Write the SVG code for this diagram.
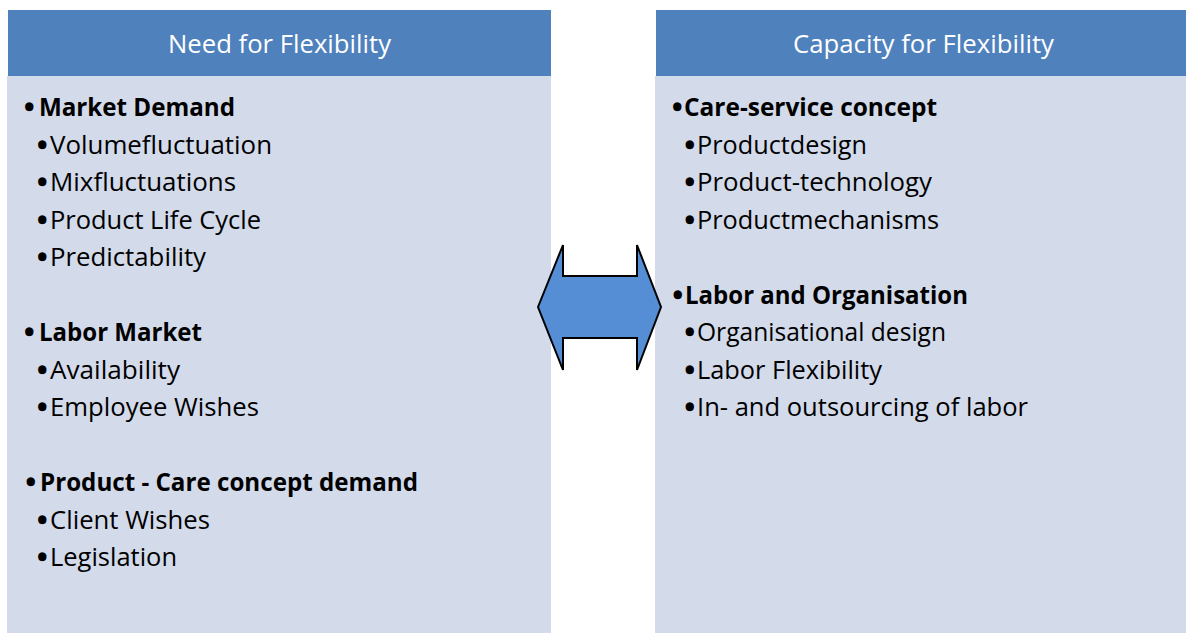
<svg xmlns="http://www.w3.org/2000/svg" width="1186" height="633" viewBox="0 0 1186 633">
<style>
.hdr{fill:#4F81BD}
.body{fill:#D3DAEA}
.ht{font-family:"Open Sans","Liberation Sans",sans-serif;font-size:25px;fill:#FFFFFF}
.t{font-family:"Open Sans","Liberation Sans",sans-serif;font-size:25px;fill:#000000}
.bu{font-size:28px;font-weight:normal;stroke:#000000;stroke-width:2.5;stroke-linejoin:round}
.b{font-weight:bold}
.arrow{fill:#558ED5;stroke:#000000;stroke-width:2;stroke-linejoin:miter}
</style>
<rect width="1186" height="633" fill="#FFFFFF"/>
<g id="need">
<rect class="body" x="7" y="76" width="544" height="557"/>
<rect class="hdr" x="8" y="10" width="543" height="66"/>
<text class="ht" x="168" y="53" textLength="223" lengthAdjust="spacingAndGlyphs">Need for Flexibility</text>
<text class="t"><tspan class="bu" x="24" y="117">•</tspan><tspan class="b" x="39" y="116" textLength="196" lengthAdjust="spacingAndGlyphs">Market Demand</tspan></text>
<text class="t"><tspan class="bu" x="37" y="154.5">•</tspan><tspan x="50" y="153.5" textLength="222" lengthAdjust="spacingAndGlyphs">Volumefluctuation</tspan></text>
<text class="t"><tspan class="bu" x="37" y="192">•</tspan><tspan x="50" y="191" textLength="186" lengthAdjust="spacingAndGlyphs">Mixfluctuations</tspan></text>
<text class="t"><tspan class="bu" x="37" y="229.5">•</tspan><tspan x="50" y="228.5" textLength="211" lengthAdjust="spacingAndGlyphs">Product Life Cycle</tspan></text>
<text class="t"><tspan class="bu" x="37" y="267">•</tspan><tspan x="50" y="266" textLength="156" lengthAdjust="spacingAndGlyphs">Predictability</tspan></text>
<text class="t"><tspan class="bu" x="24" y="342">•</tspan><tspan class="b" x="39" y="341" textLength="163" lengthAdjust="spacingAndGlyphs">Labor Market</tspan></text>
<text class="t"><tspan class="bu" x="37" y="379.5">•</tspan><tspan x="50" y="378.5" textLength="130" lengthAdjust="spacingAndGlyphs">Availability</tspan></text>
<text class="t"><tspan class="bu" x="37" y="417">•</tspan><tspan x="50" y="416" textLength="209" lengthAdjust="spacingAndGlyphs">Employee Wishes</tspan></text>
<text class="t"><tspan class="bu" x="25.5" y="492">•</tspan><tspan class="b" x="40" y="491" textLength="378" lengthAdjust="spacingAndGlyphs">Product - Care concept demand</tspan></text>
<text class="t"><tspan class="bu" x="37" y="529.5">•</tspan><tspan x="50" y="528.5" textLength="160" lengthAdjust="spacingAndGlyphs">Client Wishes</tspan></text>
<text class="t"><tspan class="bu" x="37" y="567">•</tspan><tspan x="50" y="566" textLength="127" lengthAdjust="spacingAndGlyphs">Legislation</tspan></text>
</g>
<g id="capacity">
<rect class="body" x="655" y="76" width="531" height="557"/>
<rect class="hdr" x="656" y="10" width="530" height="66"/>
<text class="ht" x="793" y="53" textLength="261" lengthAdjust="spacingAndGlyphs">Capacity for Flexibility</text>
<text class="t"><tspan class="bu" x="672" y="117">•</tspan><tspan class="b" x="684" y="116" textLength="253" lengthAdjust="spacingAndGlyphs">Care-service concept</tspan></text>
<text class="t"><tspan class="bu" x="684.5" y="154.5">•</tspan><tspan x="697" y="153.5" textLength="170" lengthAdjust="spacingAndGlyphs">Productdesign</tspan></text>
<text class="t"><tspan class="bu" x="684.5" y="192">•</tspan><tspan x="697" y="191" textLength="235" lengthAdjust="spacingAndGlyphs">Product-technology</tspan></text>
<text class="t"><tspan class="bu" x="684.5" y="229.5">•</tspan><tspan x="697" y="228.5" textLength="242" lengthAdjust="spacingAndGlyphs">Productmechanisms</tspan></text>
<text class="t"><tspan class="bu" x="672.5" y="304.5">•</tspan><tspan class="b" x="685" y="303.5" textLength="283" lengthAdjust="spacingAndGlyphs">Labor and Organisation</tspan></text>
<text class="t"><tspan class="bu" x="684.5" y="342">•</tspan><tspan x="697" y="341" textLength="249" lengthAdjust="spacingAndGlyphs">Organisational design</tspan></text>
<text class="t"><tspan class="bu" x="684.5" y="379.5">•</tspan><tspan x="697" y="378.5" textLength="185" lengthAdjust="spacingAndGlyphs">Labor Flexibility</tspan></text>
<text class="t"><tspan class="bu" x="684.5" y="417">•</tspan><tspan x="697" y="416" textLength="331" lengthAdjust="spacingAndGlyphs">In- and outsourcing of labor</tspan></text>
</g>
<g id="connectors">
<polygon class="arrow" points="538,307 563,245 563,276 637,276 637,245 661,307 637,370 637,338 563,338 563,370"/>
</g>
</svg>
